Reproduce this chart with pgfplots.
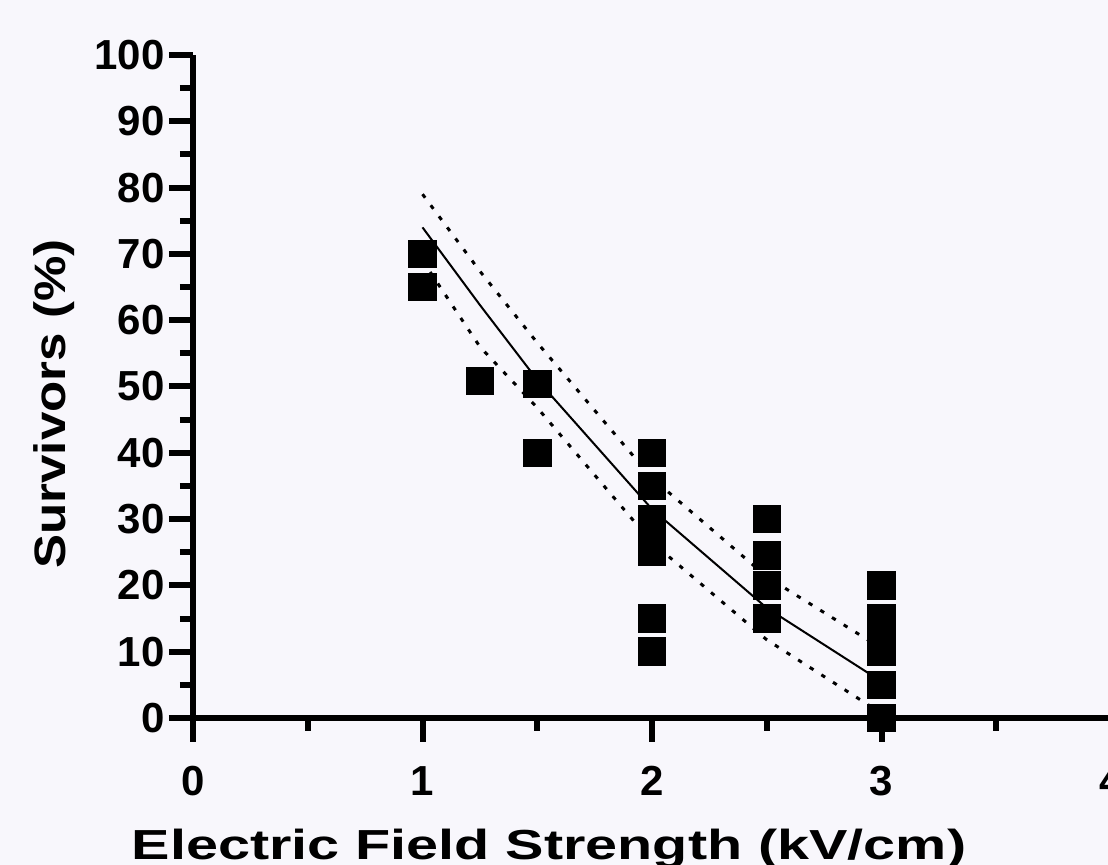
\documentclass[border=0pt]{standalone}
\usepackage{pgfplots}
\pgfplotsset{compat=1.18}
\usepackage{fontspec}
\setmainfont{Liberation Sans}
\usepackage{graphicx}
\definecolor{bgpaper}{RGB}{248,247,252}

\begin{document}
\begin{tikzpicture}
\fill[bgpaper] (-96.5pt,-73.5pt) rectangle (457.5pt,359pt);
\begin{axis}[
  at={(0pt,0pt)}, anchor=south west,
  scale only axis, width=459pt, height=331.5pt,
  xmin=0, xmax=4, ymin=0, ymax=100,
  axis lines=left, axis line style={-, line width=3.2pt},
  xtick={0,1,2,3,4}, minor xtick={0.5,1.5,2.5,3.5},
  ytick={0,10,...,100}, minor ytick={5,15,...,95},
  tick align=outside, major tick length=12pt, minor tick length=6.5pt,
  tick style={black, line width=3pt},
  tick label style={font=\fontsize{21}{25}\selectfont\bfseries},
  /pgf/number format/assume math mode=true,
  yticklabel style={anchor=east, inner sep=0pt, xshift=-2pt},
  xticklabel style={anchor=north, inner sep=0pt, yshift=-12pt},
  clip=false,
]
% fitted curve and 95% band
\addplot[black, line width=1pt] coordinates {
  (1,74) (1.25,62.3) (1.5,51) (2,31.5) (2.5,16.6) (3,5.5)};
\addplot[black, line width=1.5pt, dash pattern=on 2.2pt off 4.7pt] coordinates {
  (1,79) (1.25,67.4) (1.5,56.6) (2,36.2) (2.5,21.3) (3,10.5)};
\addplot[black, line width=1.5pt, dash pattern=on 2.2pt off 4.7pt] coordinates {
  (1,69) (1.25,56) (1.5,46.8) (2,26.5) (2.5,11.8) (3,0.7)};
% observations
\addplot[only marks, mark=square*, mark size=6.875pt,
  mark options={fill=black, draw=black, line width=0pt}] coordinates {
  (1,70) (1,65)
  (1.25,50.8)
  (1.5,50.4) (1.5,40)
  (2,40) (2,35) (2,30) (2,27.5) (2,25) (2,15) (2,10)
  (2.5,30) (2.5,24.5) (2.5,20) (2.5,15)
  (3,20) (3,15) (3,12.5) (3,10) (3,5) (3,0)};
\end{axis}
\node[font=\fontsize{21}{25}\selectfont\bfseries, anchor=base]
  at (178pt,-71pt) {\scalebox{1.37}[1]{Electric Field Strength (kV/cm)}};
\node[font=\fontsize{22}{26}\selectfont\bfseries, rotate=90, anchor=center]
  at (-69.5pt,157pt) {\scalebox{1.16}[1]{Survivors (\%)}};
\pgfresetboundingbox
\useasboundingbox (-96.5pt,-73.5pt) rectangle (457.5pt,359pt);
\end{tikzpicture}
\end{document}
